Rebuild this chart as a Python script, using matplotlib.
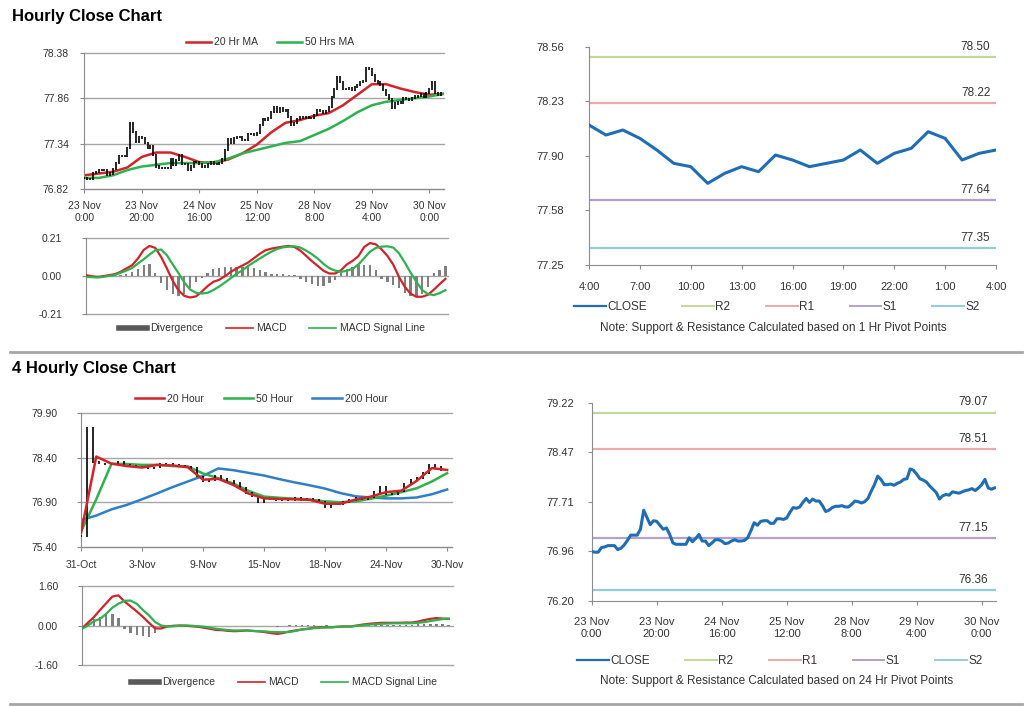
import numpy as np
import matplotlib
matplotlib.use('Agg')
import matplotlib.pyplot as plt
from matplotlib.lines import Line2D

plt.rcParams['font.family'] = ['Liberation Sans', 'DejaVu Sans']

# ---------------- data ----------------
# hourly closes, 23 Nov 0:00 onwards (one value per hour)
hourly_close = [
    76.95, 76.94, 76.94, 77.01, 77.02, 77.04, 77.04, 77.04, 76.98, 77.00,
    77.05, 77.12, 77.20, 77.20, 77.20, 77.29, 77.58, 77.47, 77.36, 77.42,
    77.41, 77.35, 77.29, 77.31, 77.21, 77.08, 77.06, 77.06, 77.06, 77.06,
    77.16, 77.10, 77.15, 77.21, 77.11, 77.11, 77.04, 77.08, 77.13, 77.13,
    77.11, 77.07, 77.08, 77.11, 77.13, 77.11, 77.11, 77.12, 77.16, 77.27,
    77.39, 77.35, 77.41, 77.42, 77.42, 77.38, 77.38, 77.45, 77.45, 77.44,
    77.46, 77.55, 77.62, 77.61, 77.63, 77.70, 77.76, 77.70, 77.75, 77.72,
    77.72, 77.65, 77.56, 77.58, 77.62, 77.64, 77.64, 77.65, 77.63, 77.63,
    77.67, 77.72, 77.71, 77.69, 77.71, 77.76, 77.87, 77.97, 78.10, 78.05,
    77.97, 77.97, 77.98, 77.96, 77.99, 78.01, 78.05, 78.06, 78.21, 78.19,
    78.13, 78.06, 78.04, 78.01, 77.95, 77.90, 77.85, 77.75, 77.80, 77.82,
    77.81, 77.86, 77.85, 77.84, 77.86, 77.88, 77.89, 77.91, 77.88, 77.92,
    77.97, 78.05, 77.92, 77.90, 77.92,
]
hourly_ticks = ['23 Nov\n0:00', '23 Nov\n20:00', '24 Nov\n16:00', '25 Nov\n12:00',
                '28 Nov\n8:00', '29 Nov\n4:00', '30 Nov\n0:00']

# moving averages, read every 5 hours
ma20_hr = [76.98, 77.00, 77.02, 77.07, 77.19, 77.24, 77.24, 77.19, 77.13, 77.12,
           77.16, 77.23, 77.33, 77.47, 77.58, 77.61, 77.66, 77.69, 77.78, 77.90,
           78.02, 78.02, 77.97, 77.93, 77.90, 77.91]
ma50_hr = [76.95, 76.95, 76.98, 77.04, 77.08, 77.10, 77.12, 77.12, 77.12, 77.13,
           77.17, 77.23, 77.27, 77.31, 77.35, 77.37, 77.44, 77.51, 77.60, 77.70,
           77.78, 77.82, 77.84, 77.86, 77.88, 77.91]

# hourly MACD, read every 2 hours
macd_hr = [0.004, -0.002, -0.006, -0.002, 0.004, 0.009, 0.022, 0.041, 0.059, 0.096,
           0.144, 0.166, 0.155, 0.105, 0.041, -0.028, -0.081, -0.111, -0.120, -0.114,
           -0.088, -0.057, -0.033, -0.022, -0.002, 0.022, 0.041, 0.057, 0.074, 0.098,
           0.122, 0.142, 0.151, 0.157, 0.162, 0.166, 0.160, 0.140, 0.111, 0.081,
           0.055, 0.028, 0.013, 0.013, 0.031, 0.063, 0.083, 0.109, 0.160, 0.182,
           0.175, 0.147, 0.111, 0.063, -0.006, -0.061, -0.099, -0.116, -0.116, -0.105,
           -0.077, -0.046, -0.017]
signal_hr = [-0.006, -0.007, -0.009, -0.006, 0.0, 0.004, 0.017, 0.029, 0.044, 0.068,
             0.092, 0.118, 0.142, 0.146, 0.114, 0.064, 0.015, -0.037, -0.076, -0.094,
             -0.098, -0.094, -0.079, -0.059, -0.037, -0.013, 0.011, 0.031, 0.055, 0.076,
             0.096, 0.116, 0.134, 0.149, 0.158, 0.162, 0.164, 0.157, 0.140, 0.120,
             0.096, 0.066, 0.042, 0.029, 0.022, 0.028, 0.039, 0.063, 0.098, 0.134,
             0.155, 0.162, 0.164, 0.157, 0.125, 0.074, 0.018, -0.033, -0.079, -0.101,
             -0.107, -0.096, -0.079]
diverg_hr = [0.0, 0.0, -0.002, 0.0, 0.002, 0.004, 0.006, 0.012, 0.024, 0.040,
             0.058, 0.066, 0.018, -0.04, -0.08, -0.10, -0.11, -0.10, -0.07, -0.036,
             -0.01, 0.018, 0.037, 0.044, 0.048, 0.05, 0.05, 0.05, 0.05, 0.044,
             0.031, 0.02, 0.009, 0.008, 0.008, 0.007, 0.005, -0.015, -0.032, -0.045,
             -0.058, -0.058, -0.04, -0.025, 0.016, 0.037, 0.05, 0.058, 0.062, 0.06,
             0.03, -0.015, -0.035, -0.052, -0.07, -0.095, -0.114, -0.115, -0.1, -0.06,
             0.018, 0.035, 0.055]

# last 24 hours close vs 1 hr pivot levels
close_1h = [78.09, 78.03, 78.06, 78.01, 77.94, 77.86, 77.84, 77.74, 77.80, 77.84,
            77.81, 77.91, 77.88, 77.84, 77.86, 77.88, 77.94, 77.86, 77.92, 77.95,
            78.05, 78.01, 77.88, 77.92, 77.94]
ticks_1h = ['4:00', '7:00', '10:00', '13:00', '16:00', '19:00', '22:00', '1:00', '4:00']
level_names = ['R2', 'R1', 'S1', 'S2']
levels_1h = [78.50, 78.22, 77.64, 77.35]
levels_24h = [79.07, 78.51, 77.15, 76.36]

# 4 hourly closes, read every 2 bars
close_4h = [75.75, 79.40, 78.25, 78.21, 78.18, 78.21, 78.27, 78.16, 78.12, 78.10,
            78.08, 78.05, 78.07, 78.21, 78.18, 78.16, 78.12, 78.10, 78.05, 77.77,
            77.62, 77.65, 77.80, 77.69, 77.62, 77.54, 77.37, 77.20, 77.09, 76.92,
            77.01, 77.01, 76.98, 77.01, 76.98, 77.03, 76.98, 77.00, 76.98, 76.92,
            76.75, 76.83, 76.84, 76.92, 76.98, 77.03, 77.00, 77.06, 77.24, 77.43,
            77.17, 77.17, 77.26, 77.51, 77.65, 77.71, 77.88, 78.16, 78.10, 77.99,
            77.99]
ticks_4h = ['31-Oct', '3-Nov', '9-Nov', '15-Nov', '18-Nov', '24-Nov', '30-Nov']

# 4 hourly moving averages, read every 5 bars
ma20_4h = [75.86, 78.44, 78.20, 78.12, 78.07, 78.16, 78.14, 78.08, 77.66, 77.69,
           77.48, 77.19, 77.03, 77.01, 77.00, 76.98, 76.85, 76.85, 76.99, 77.09,
           77.24, 77.29, 77.62, 78.05, 77.99]
ma50_4h = [75.91, 77.00, 78.20, 78.19, 78.16, 78.16, 78.12, 78.11, 77.87, 77.71,
           77.53, 77.28, 77.09, 77.05, 77.02, 76.99, 76.93, 76.90, 76.93, 77.02,
           77.12, 77.24, 77.37, 77.60, 77.88]
ma200_4h = [76.30, 76.45, 76.66, 76.81, 77.00, 77.20, 77.41, 77.60, 77.79, 78.04,
            77.98, 77.89, 77.80, 77.68, 77.57, 77.47, 77.36, 77.21, 77.10, 77.06,
            77.03, 77.03, 77.06, 77.17, 77.33]

# 4 hourly MACD, read every 2 bars
macd_4h = [-0.135, 0.11, 0.34, 0.63, 0.90, 1.17, 1.22, 0.97, 0.77, 0.57,
           0.35, 0.11, -0.12, -0.12, -0.04, -0.01, 0.0, -0.01, -0.03, -0.05,
           -0.09, -0.135, -0.18, -0.19, -0.22, -0.23, -0.22, -0.20, -0.22, -0.24,
           -0.27, -0.31, -0.34, -0.30, -0.24, -0.20, -0.16, -0.135, -0.09, -0.07,
           -0.07, -0.07, -0.05, -0.04, -0.04, 0.0, 0.04, 0.07, 0.09, 0.11,
           0.11, 0.11, 0.11, 0.12, 0.12, 0.16, 0.22, 0.27, 0.30, 0.28,
           0.27]
signal_4h = [-0.135, -0.01, 0.18, 0.27, 0.47, 0.72, 0.88, 1.00, 1.01, 0.88,
             0.63, 0.41, 0.14, 0.0, -0.04, -0.03, -0.01, 0.0, -0.01, -0.03,
             -0.05, -0.09, -0.135, -0.16, -0.19, -0.20, -0.20, -0.20, -0.22, -0.23,
             -0.24, -0.26, -0.27, -0.27, -0.26, -0.22, -0.16, -0.135, -0.11, -0.09,
             -0.08, -0.07, -0.05, -0.04, -0.04, -0.01, 0.01, 0.04, 0.05, 0.07,
             0.08, 0.09, 0.09, 0.09, 0.09, 0.11, 0.135, 0.18, 0.22, 0.26,
             0.28]
diverg_4h = [0.0, 0.1, 0.25, 0.35, 0.42, 0.47, 0.3, -0.15, -0.3, -0.38,
             -0.42, -0.45, -0.3, -0.05, 0.0, 0.0, 0.01, 0.0, 0.0, 0.0,
             -0.01, -0.03, -0.04, -0.03, -0.03, -0.02, -0.03, -0.03, -0.02, -0.03,
             -0.03, -0.04, -0.05, -0.02, 0.01, 0.02, 0.02, 0.01, 0.01, 0.0,
             0.01, 0.0, 0.0, 0.0, 0.0, 0.02, 0.03, 0.03, 0.03, 0.03,
             0.02, 0.01, 0.02, 0.01, 0.03, 0.05, 0.05, 0.06, 0.06, 0.05,
             0.03]

# ---------------- styling ----------------
W, H = 1024, 706
AX_GREY = '#8c8c8c'
GRID = '#a6a6a6'
TXT = '#333333'
RED = '#d2232a'
GREEN = '#2db24d'
BLUE = '#1f6db5'
BLUE200 = '#2e7fc6'
BAR_GREY = '#808080'
LVL_COLORS = ['#c3d99b', '#eba9a9', '#b3a0cc', '#92cddc']

fig = plt.figure(figsize=(W / 100, H / 100), dpi=100)


def fax(l, t, r, b):
    # axes from a pixel box
    return fig.add_axes([l / W, 1 - b / H, (r - l) / W, (b - t) / H])


def base_style(ax, ypad, fs):
    for s in ['top', 'right']:
        ax.spines[s].set_visible(False)
    for s in ['left', 'bottom']:
        ax.spines[s].set_color(AX_GREY)
    ax.tick_params(axis='both', colors=AX_GREY, labelcolor=TXT, labelsize=fs,
                   length=3, direction='out')
    ax.tick_params(axis='y', pad=ypad)


def grid_lines(ax):
    ax.yaxis.grid(True, color=GRID, lw=1)
    for gl in ax.get_ygridlines():
        gl.set_clip_on(False)
    ax.set_axisbelow(True)


def fig_legend(handles, labels, cx, cy, fs, hl, cs, tp=0.3):
    fig.legend(handles, labels, loc='center', bbox_to_anchor=(cx / W, 1 - cy / H),
               ncol=len(handles), frameon=False, fontsize=fs, labelcolor=TXT,
               handlelength=hl, columnspacing=cs, handletextpad=tp, borderpad=0)


def ohlc_bars(ax, x, close, ext):
    opens = [close[0]] + list(close[:-1])
    lo = np.minimum(opens, close) - ext
    hi = np.maximum(opens, close) + ext
    ax.vlines(x, lo, hi, color='black', lw=1.2, zorder=3)


# ---------------- titles / separators ----------------
fig.text(12 / W, 1 - 16 / H, 'Hourly Close Chart', fontsize=12, fontweight='bold', va='center')
fig.text(12 / W, 1 - 369 / H, '4 Hourly Close Chart', fontsize=12, fontweight='bold', va='center')
for yy in [352, 704]:
    fig.add_artist(Line2D([10 / W, 1022 / W], [1 - yy / H] * 2, transform=fig.transFigure,
                          color='#a6a6a6', lw=2))

# ---------------- hourly close (top left) ----------------
ax1 = fax(84.3, 52.7, 444.3, 189.3)
base_style(ax1, 8, 7.5)
grid_lines(ax1)
x_ma = np.arange(len(ma20_hr)) * 5
ax1.plot(x_ma, ma20_hr, color=RED, lw=1.8, zorder=2)
ax1.plot(x_ma, ma50_hr, color=GREEN, lw=1.8, zorder=2)
ohlc_bars(ax1, np.arange(len(hourly_close)), hourly_close, 0.012)
ax1.set_xlim(0, 125.2)
ax1.set_ylim(76.82, 78.38)
ax1.set_yticks([76.82, 77.34, 77.86, 78.38])
ax1.set_yticklabels(['76.82', '77.34', '77.86', '78.38'])
ax1.set_xticks(np.arange(len(hourly_ticks)) * 20)
ax1.set_xticklabels(hourly_ticks)
ax1.tick_params(axis='x', pad=5.5)
fig_legend([Line2D([], [], color=RED, lw=1.8), Line2D([], [], color=GREEN, lw=1.8)],
           ['20 Hr MA', '50 Hrs MA'], 270, 42.3, 7.5, 2.4, 1.8)

# ---------------- hourly MACD ----------------
ax2 = fax(85.7, 238, 448.3, 313.7)
base_style(ax2, 14, 7.5)
ax2.spines['bottom'].set_visible(False)
grid_lines(ax2)
xm = np.arange(len(macd_hr)) * 2
ax2.bar(xm, diverg_hr, width=0.8, color=BAR_GREY, zorder=2)
ax2.plot(xm, macd_hr, color=RED, lw=1.6, zorder=3)
ax2.plot(xm, signal_hr, color=GREEN, lw=1.6, zorder=3)
ax2.set_xlim(0, 125)
ax2.set_ylim(-0.21, 0.21)
ax2.set_yticks([-0.21, 0.0, 0.21])
ax2.set_yticklabels(['-0.21', '0.00', '0.21'])
ax2.set_xticks([])
fig_legend([Line2D([], [], color='#595959', lw=4), Line2D([], [], color=RED, lw=1.2),
            Line2D([], [], color=GREEN, lw=1.2)],
           ['Divergence', 'MACD', 'MACD Signal Line'], 272, 328.3, 7.5, 2.6, 2.2)

# ---------------- 1 hr pivot (top right) ----------------
ax3 = fax(589, 46.7, 996, 265)
base_style(ax3, 15, 8)
for v, c in zip(levels_1h, LVL_COLORS):
    ax3.axhline(v, color=c, lw=1.6, zorder=1)
    ax3.annotate(f'{v:.2f}', xy=(1, v), xycoords=('axes fraction', 'data'),
                 xytext=(-4, 3), textcoords='offset points', ha='right', va='bottom',
                 fontsize=8.5, color=TXT)
ax3.plot(np.arange(len(close_1h)), close_1h, color=BLUE, lw=2.2, zorder=3)
ax3.set_xlim(0, 24)
ax3.set_ylim(77.25, 78.56)
ax3.set_yticks(np.linspace(77.25, 78.56, 5))
ax3.set_yticklabels(['77.25', '77.58', '77.90', '78.23', '78.56'])
ax3.set_xticks(np.arange(len(ticks_1h)) * 3)
ax3.set_xticklabels(ticks_1h)
ax3.tick_params(axis='x', pad=9)
lv_handles = [Line2D([], [], color=BLUE, lw=1.6)] + [Line2D([], [], color=c, lw=1.4) for c in LVL_COLORS]
fig_legend(lv_handles, ['CLOSE'] + level_names, 777, 307, 8.5, 2.7, 3.0, 0.1)
fig.text(773 / W, 1 - 328 / H, 'Note: Support & Resistance Calculated based on 1 Hr Pivot Points',
         fontsize=8.5, color=TXT, ha='center', va='center')

# ---------------- 4 hourly close (bottom left) ----------------
ax4 = fax(81, 413.3, 451.7, 546.7)
base_style(ax4, 14, 7.5)
grid_lines(ax4)
x5 = np.arange(len(ma20_4h)) * 5
ax4.plot(x5, ma200_4h, color=BLUE200, lw=1.8, zorder=2)
ax4.plot(x5, ma50_4h, color=GREEN, lw=1.8, zorder=2)
ohlc_bars(ax4, np.arange(len(close_4h)) * 2, close_4h, 0.03)
ax4.plot(x5, ma20_4h, color=RED, lw=1.8, zorder=4)
ax4.set_xlim(0, 121.5)
ax4.set_ylim(75.40, 79.90)
ax4.set_yticks([75.40, 76.90, 78.40, 79.90])
ax4.set_yticklabels(['75.40', '76.90', '78.40', '79.90'])
ax4.set_xticks(np.arange(len(ticks_4h)) * 20)
ax4.set_xticklabels(ticks_4h)
ax4.tick_params(axis='x', pad=6.5)
fig_legend([Line2D([], [], color=RED, lw=1.8), Line2D([], [], color=GREEN, lw=1.8),
            Line2D([], [], color=BLUE200, lw=1.8)],
           ['20 Hour', '50 Hour', '200 Hour'], 261, 399, 7.5, 2.8, 1.9)

# ---------------- 4 hourly MACD ----------------
ax5 = fax(81.7, 586, 453.3, 665)
base_style(ax5, 14, 7.5)
ax5.spines['bottom'].set_visible(False)
grid_lines(ax5)
xb = np.arange(len(macd_4h)) * 2
ax5.bar(xb, diverg_4h, width=0.8, color=BAR_GREY, zorder=2)
ax5.plot(xb, macd_4h, color=RED, lw=1.6, zorder=3)
ax5.plot(xb, signal_4h, color=GREEN, lw=1.6, zorder=3)
ax5.set_xlim(0, 121.5)
ax5.set_ylim(-1.6, 1.6)
ax5.set_yticks([-1.6, 0.0, 1.6])
ax5.set_yticklabels(['-1.60', '0.00', '1.60'])
ax5.set_xticks([])
fig_legend([Line2D([], [], color='#595959', lw=4), Line2D([], [], color=RED, lw=1.2),
            Line2D([], [], color=GREEN, lw=1.2)],
           ['Divergence', 'MACD', 'MACD Signal Line'], 284, 682.3, 7.5, 2.6, 2.2)

# ---------------- 24 hr pivot (bottom right) ----------------
ax6 = fax(591.7, 402.7, 996, 600.7)
base_style(ax6, 9.5, 8)
for v, c in zip(levels_24h, LVL_COLORS):
    ax6.axhline(v, color=c, lw=1.6, zorder=1)
    ax6.annotate(f'{v:.2f}', xy=(1, v), xycoords=('axes fraction', 'data'),
                 xytext=(-6, 3), textcoords='offset points', ha='right', va='bottom',
                 fontsize=8.5, color=TXT)
ax6.plot(np.arange(len(hourly_close)), hourly_close, color=BLUE, lw=2.2, zorder=3)
ax6.set_xlim(0, 124.4)
ax6.set_ylim(76.20, 79.22)
ax6.set_yticks(np.linspace(76.20, 79.22, 5))
ax6.set_yticklabels(['76.20', '76.96', '77.71', '78.47', '79.22'])
ax6.set_xticks(np.arange(len(hourly_ticks)) * 20)
ax6.set_xticklabels(hourly_ticks)
ax6.tick_params(axis='x', pad=9)
fig_legend(lv_handles, ['CLOSE'] + level_names, 780, 661, 8.5, 2.7, 3.0, 0.1)
fig.text(777 / W, 1 - 681 / H, 'Note: Support & Resistance Calculated based on 24 Hr Pivot Points',
         fontsize=8.5, color=TXT, ha='center', va='center')

fig.savefig('out.png', dpi=100)
